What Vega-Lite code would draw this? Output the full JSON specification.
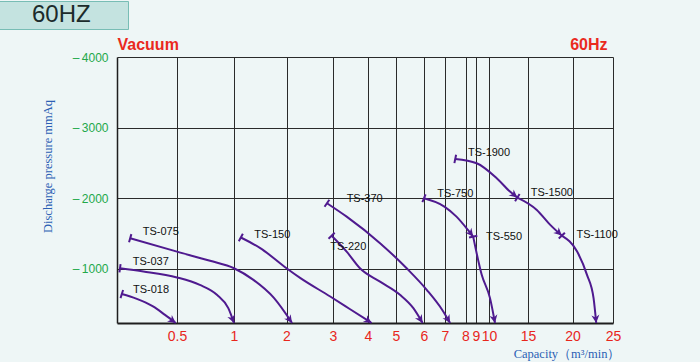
{
  "$schema": "https://vega.github.io/schema/vega-lite/v6.json",
  "width": 496,
  "height": 266,
  "autosize": {"type": "none"},
  "padding": {"left": 117, "top": 57, "right": 87, "bottom": 39},
  "background": "#eef6f6",
  "config": {"view": {"stroke": null}, "font": "Liberation Sans"},
  "datasets": {
    "curves": [
      {"curve": "TS-018", "cap": 0.04, "p": -645},
      {"curve": "TS-018", "cap": 0.16, "p": -580},
      {"curve": "TS-018", "cap": 0.30, "p": -470},
      {"curve": "TS-018", "cap": 0.40, "p": -350},
      {"curve": "TS-018", "cap": 0.49, "p": -235},
      {"curve": "TS-037", "cap": 0.025, "p": -1010},
      {"curve": "TS-037", "cap": 0.22, "p": -965},
      {"curve": "TS-037", "cap": 0.5, "p": -880},
      {"curve": "TS-037", "cap": 0.70, "p": -775},
      {"curve": "TS-037", "cap": 0.85, "p": -635},
      {"curve": "TS-037", "cap": 0.95, "p": -445},
      {"curve": "TS-037", "cap": 1.0, "p": -235},
      {"curve": "TS-075", "cap": 0.11, "p": -1435},
      {"curve": "TS-075", "cap": 0.5, "p": -1245},
      {"curve": "TS-075", "cap": 0.79, "p": -1115},
      {"curve": "TS-075", "cap": 1.0, "p": -1010},
      {"curve": "TS-075", "cap": 1.37, "p": -845},
      {"curve": "TS-075", "cap": 1.76, "p": -590},
      {"curve": "TS-075", "cap": 2.12, "p": -235},
      {"curve": "TS-150", "cap": 1.13, "p": -1445},
      {"curve": "TS-150", "cap": 1.5, "p": -1295},
      {"curve": "TS-150", "cap": 2.0, "p": -1010},
      {"curve": "TS-150", "cap": 2.3, "p": -870},
      {"curve": "TS-150", "cap": 2.94, "p": -610},
      {"curve": "TS-150", "cap": 3.49, "p": -430},
      {"curve": "TS-150", "cap": 4.13, "p": -235},
      {"curve": "TS-220", "cap": 2.97, "p": -1470},
      {"curve": "TS-220", "cap": 3.39, "p": -1245},
      {"curve": "TS-220", "cap": 3.77, "p": -1010},
      {"curve": "TS-220", "cap": 4.43, "p": -820},
      {"curve": "TS-220", "cap": 5.14, "p": -635},
      {"curve": "TS-220", "cap": 5.62, "p": -445},
      {"curve": "TS-220", "cap": 5.95, "p": -235},
      {"curve": "TS-370", "cap": 2.87, "p": -1930},
      {"curve": "TS-370", "cap": 3.39, "p": -1740},
      {"curve": "TS-370", "cap": 4.43, "p": -1365},
      {"curve": "TS-370", "cap": 5.38, "p": -1010},
      {"curve": "TS-370", "cap": 6.13, "p": -705},
      {"curve": "TS-370", "cap": 6.87, "p": -420},
      {"curve": "TS-370", "cap": 7.25, "p": -235},
      {"curve": "TS-750", "cap": 6.0, "p": -2000},
      {"curve": "TS-750", "cap": 6.97, "p": -1883},
      {"curve": "TS-750", "cap": 7.56, "p": -1741},
      {"curve": "TS-750", "cap": 8.23, "p": -1553},
      {"curve": "TS-750", "cap": 8.73, "p": -1458},
      {"curve": "TS-550", "cap": 8.73, "p": -1458},
      {"curve": "TS-550", "cap": 9.44, "p": -917},
      {"curve": "TS-550", "cap": 10.13, "p": -587},
      {"curve": "TS-550", "cap": 10.77, "p": -235},
      {"curve": "TS-1900", "cap": 7.5, "p": -2557},
      {"curve": "TS-1900", "cap": 9.05, "p": -2496},
      {"curve": "TS-1900", "cap": 10.99, "p": -2284},
      {"curve": "TS-1900", "cap": 12.69, "p": -2095},
      {"curve": "TS-1900", "cap": 13.63, "p": -2010},
      {"curve": "TS-1500", "cap": 13.63, "p": -2010},
      {"curve": "TS-1500", "cap": 15.99, "p": -1836},
      {"curve": "TS-1500", "cap": 17.5, "p": -1624},
      {"curve": "TS-1500", "cap": 18.8, "p": -1472},
      {"curve": "TS-1100", "cap": 18.8, "p": -1472},
      {"curve": "TS-1100", "cap": 20.57, "p": -1246},
      {"curve": "TS-1100", "cap": 21.79, "p": -917},
      {"curve": "TS-1100", "cap": 22.6, "p": -587},
      {"curve": "TS-1100", "cap": 22.93, "p": -235}
    ],
    "labels": [
      {"label": "TS-018", "cap": 0.133, "p": -704},
      {"label": "TS-037", "cap": 0.131, "p": -1096},
      {"label": "TS-075", "cap": 0.214, "p": -1529},
      {"label": "TS-150", "cap": 1.385, "p": -1482},
      {"label": "TS-220", "cap": 2.94, "p": -1317},
      {"label": "TS-370", "cap": 3.39, "p": -1987},
      {"label": "TS-750", "cap": 6.63, "p": -2058},
      {"label": "TS-550", "cap": 9.77, "p": -1458},
      {"label": "TS-1900", "cap": 8.23, "p": -2638},
      {"label": "TS-1500", "cap": 15.31, "p": -2072},
      {"label": "TS-1100", "cap": 20.49, "p": -1482}
    ]
  },
  "data": {"name": "curves"},
  "resolve": {"axis": {"x": "independent"}},
  "layer": [
    {
      "mark": {"type": "line", "interpolate": "monotone", "strokeWidth": 2},
      "encoding": {
        "x": {
          "field": "cap",
          "type": "quantitative",
          "scale": {
            "domain": [0, 0.5, 1, 2, 3, 4, 5, 6, 7, 8, 9, 10, 15, 20, 25],
            "range": [0, 60, 117, 169.5, 216, 251, 279, 307, 328, 348.5, 359, 372, 411, 455.5, 496],
            "nice": false,
            "zero": false
          },
          "axis": {
            "values": [0.5, 1, 2, 3, 4, 5, 6, 7, 8, 9, 10, 15, 20, 25],
            "format": "",
            "labelOverlap": false,
            "labelFlush": false,
            "labelBound": false,
            "labelColor": "#e8261c",
            "labelFontSize": 14,
            "labelFont": "Liberation Sans",
            "labelPadding": 6,
            "ticks": false,
            "grid": true,
            "gridColor": "#2a2a2a",
            "gridWidth": 1,
            "domainColor": "#1e1e1e",
            "domainWidth": 2,
            "title": "Capacity（m³/min）",
            "titleAnchor": "end",
            "titleAlign": "right",
            "titleX": 503,
            "titleFont": "Liberation Serif",
            "titleFontSize": 12.5,
            "titleFontWeight": "normal",
            "titleColor": "#2b5fb4",
            "titlePadding": 4
          }
        },
        "y": {
          "field": "p",
          "type": "quantitative",
          "scale": {"domain": [-4000, -235], "reverse": true, "nice": false, "zero": false},
          "axis": {
            "values": [-4000, -3000, -2000, -1000],
            "labelExpr": "'\u2013\u2009' + abs(datum.value)",
            "labelColor": "#22a84a",
            "labelFontSize": 12,
            "labelFont": "Liberation Sans",
            "labelPadding": 9,
            "ticks": false,
            "grid": true,
            "gridColor": "#2a2a2a",
            "gridWidth": 1,
            "domainColor": "#1e1e1e",
            "domainWidth": 1.5,
            "title": "Discharge pressure mmAq",
            "titleFont": "Liberation Serif",
            "titleFontSize": 12.5,
            "titleFontWeight": "normal",
            "titleColor": "#2b5fb4",
            "titleX": -63,
            "titleY": 109
          }
        },
        "detail": {"field": "curve"},
        "color": {
          "datum": "60HZ",
          "type": "nominal",
          "scale": {"range": ["#4f1a8f"]},
          "legend": {
            "orient": "none",
            "legendX": -118,
            "legendY": -56,
            "title": "MM",
            "titleOrient": "right",
            "titleOpacity": 0,
            "titleFontSize": 12,
            "titlePadding": 15,
            "padding": 2,
            "fillColor": "#c4e3e0",
            "strokeColor": "#78bdb5",
            "symbolType": "circle",
            "symbolSize": 0,
            "symbolOpacity": 0,
            "symbolStrokeWidth": 0,
            "labelFontSize": 24,
            "labelFont": "Liberation Sans",
            "labelColor": "#1c2b2b",
            "labelOffset": 7
          }
        }
      }
    },
    {
      "transform": [
        {
          "window": [
            {"op": "lead", "field": "cap", "as": "ncap"},
            {"op": "lead", "field": "p", "as": "np"},
            {"op": "row_number", "as": "rn"}
          ],
          "groupby": ["curve"],
          "sort": [{"field": "cap", "order": "ascending"}]
        },
        {"filter": "datum.rn == 1"}
      ],
      "mark": {
        "type": "point",
        "shape": "stroke",
        "filled": false,
        "size": 72,
        "strokeWidth": 2,
        "color": "#4f1a8f",
        "opacity": 1,
        "angle": {"expr": "atan2(scale('x', datum.ncap) - scale('x', datum.cap), -(scale('y', datum.np) - scale('y', datum.p))) * 180 / PI"}
      },
      "encoding": {
        "x": {
          "field": "cap",
          "type": "quantitative",
          "axis": {
            "orient": "top",
            "labels": false,
            "ticks": false,
            "domain": false,
            "grid": false,
            "title": "60Hz",
            "titleAnchor": "end",
            "titleAlign": "right",
            "titleX": 490,
            "titleY": -13,
            "titleBaseline": "middle",
            "titleColor": "#ea2a1e",
            "titleFontSize": 16,
            "titleFontWeight": "bold",
            "titleFont": "Liberation Sans"
          }
        },
        "y": {"field": "p", "type": "quantitative"}
      }
    },
    {
      "transform": [
        {
          "window": [
            {"op": "lag", "field": "cap", "as": "pcap"},
            {"op": "lag", "field": "p", "as": "pp"},
            {"op": "row_number", "as": "rn"}
          ],
          "groupby": ["curve"],
          "sort": [{"field": "cap", "order": "ascending"}]
        },
        {"joinaggregate": [{"op": "count", "as": "n"}], "groupby": ["curve"]},
        {"filter": "datum.rn == datum.n"}
      ],
      "mark": {
        "type": "point",
        "shape": "M0,0L-0.5,-1L0,-0.7L0.5,-1Z",
        "filled": true,
        "size": 256,
        "strokeWidth": 0,
        "color": "#4f1a8f",
        "opacity": 1,
        "angle": {"expr": "atan2(-(scale('x', datum.cap) - scale('x', datum.pcap)), scale('y', datum.p) - scale('y', datum.pp)) * 180 / PI"}
      },
      "encoding": {
        "x": {
          "field": "cap",
          "type": "quantitative",
          "axis": {
            "orient": "top",
            "labels": false,
            "ticks": false,
            "domain": false,
            "grid": false,
            "title": "Vacuum",
            "titleAnchor": "start",
            "titleAlign": "left",
            "titleX": 0,
            "titleY": -13,
            "titleBaseline": "middle",
            "titleColor": "#ea2a1e",
            "titleFontSize": 16,
            "titleFontWeight": "bold",
            "titleFont": "Liberation Sans"
          }
        },
        "y": {"field": "p", "type": "quantitative"}
      }
    },
    {
      "data": {"name": "labels"},
      "mark": {"type": "text", "align": "left", "baseline": "middle", "fontSize": 11, "font": "Liberation Sans", "color": "#111111"},
      "encoding": {
        "x": {"field": "cap", "type": "quantitative", "axis": null},
        "y": {"field": "p", "type": "quantitative"},
        "text": {"field": "label"}
      }
    }
  ]
}
